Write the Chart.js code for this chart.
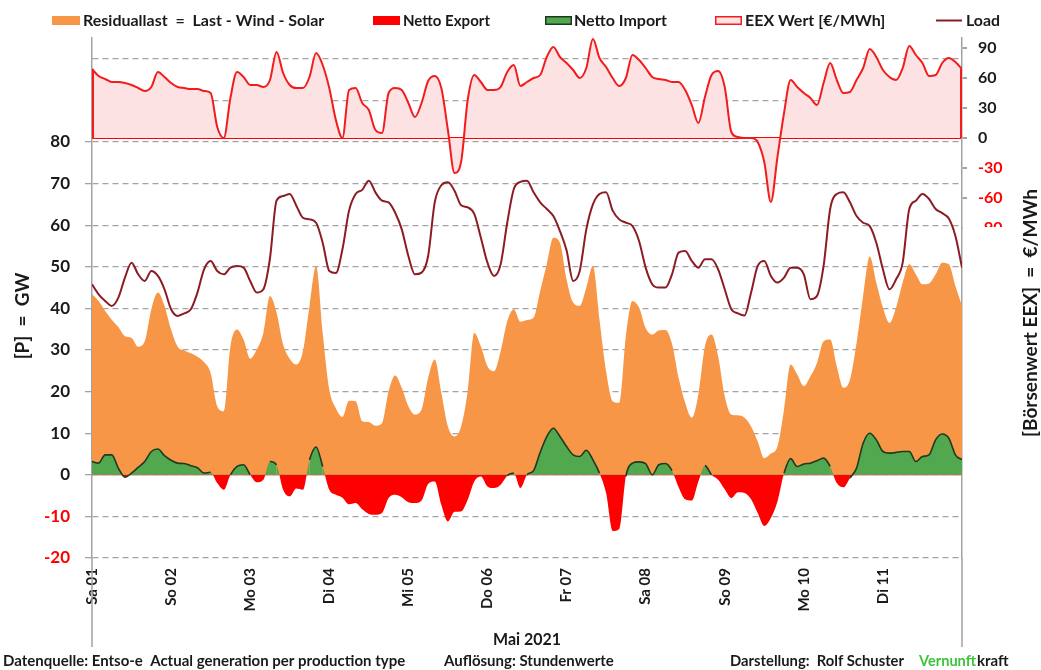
<!DOCTYPE html>
<html>
<head>
<meta charset="utf-8">
<title>Residuallast Mai 2021</title>
<script src="https://cdn.jsdelivr.net/npm/chart.js@4.4.1/dist/chart.umd.min.js"></script>
<style>
  body { margin: 0; background: #fff; }
  canvas { display: block; }
</style>
</head>
<body>
<canvas id="chart" width="1041" height="670"></canvas>
<script>
// hours since 01.05.2021 00:00, one reading every 2 hours (0 .. 264)
const hours = [];
for (let h = 0; h <= 264; h += 2) hours.push(h);

const dayTicks = [0, 24, 48, 72, 96, 120, 144, 168, 192, 216, 240];
const dayLabels = ["Sa 01", "So 02", "Mo 03", "Di 04", "Mi 05", "Do 06", "Fr 07", "Sa 08", "So 09", "Mo 10", "Di 11"];
const gwTicks = [-20, -10, 0, 10, 20, 30, 40, 50, 60, 70, 80, 90, 100];
const eurTicks = [-90, -60, -30, 0, 30, 60, 90];

// Residuallast [GW]
const residual = [
  43.4, 41.8, 39.4, 37.3, 35.5, 33.3, 32.9, 30.8, 32.1, 39.8, 43.8, 40.6,
  34.9, 30.8, 29.9, 29.2, 28.4, 27.1, 24.5, 16.5, 15.3, 30.9, 34.9, 32.5,
  27.9, 30.1, 34.1, 43.0, 39.0, 31.3, 27.9, 26.5, 29.7, 40.6, 50.2, 34.1,
  20.5, 16.0, 13.9, 17.8, 17.7, 12.9, 12.7, 11.8, 12.4, 20.1, 23.9, 20.9,
  16.5, 14.5, 15.7, 23.3, 27.7, 19.7, 11.6, 9.2, 11.6, 20.1, 34.1, 30.9,
  26.1, 24.9, 29.7, 36.9, 39.8, 36.8, 37.2, 37.8, 44.2, 50.6, 57.0, 55.8,
  47.0, 41.4, 40.6, 45.0, 50.2, 37.3, 24.9, 17.7, 17.3, 33.3, 41.8, 40.2,
  35.3, 33.7, 34.7, 34.8, 31.5, 23.3, 17.3, 13.7, 19.3, 30.9, 33.7, 28.5,
  18.9, 14.5, 14.3, 13.7, 11.6, 8.0, 4.0, 5.1, 6.8, 15.7, 26.5, 24.1,
  21.3, 23.7, 26.9, 32.1, 32.5, 26.1, 20.9, 22.9, 31.7, 43.0, 52.5, 46.2,
  40.2, 36.5, 40.2, 46.2, 50.6, 48.2, 45.8, 46.0, 48.2, 51.0, 50.6, 45.4,
  40.6
];

// Netto Import (+) / Netto Export (-) [GW]
const netto = [
  3.2, 2.8, 4.8, 4.8, 1.6, -0.6, 0.4, 1.8, 3.2, 5.6, 6.2, 4.6,
  3.5, 2.8, 2.7, 2.2, 1.7, 0.4, 0.6, -2.0, -3.6, 0.0, 2.0, 2.4,
  0.0, -1.8, -1.2, 3.2, 2.4, -3.6, -5.2, -3.3, -3.6, 3.6, 6.7, 2.0,
  -3.6, -4.8, -5.5, -7.1, -6.8, -8.3, -9.4, -9.6, -9.2, -5.6, -4.8, -5.4,
  -6.6, -6.8, -6.2, -2.2, -1.6, -7.2, -11.2, -8.9, -8.8, -6.0, -1.6, -0.4,
  -2.8, -3.2, -2.4, -0.2, 0.4, -3.2, 0.0, 1.0, 5.4, 9.2, 11.2, 9.2,
  6.8, 4.8, 4.4, 5.9, 3.6, 0.4, -4.4, -13.5, -13.0, -0.4, 2.8, 3.1,
  2.7, 0.0, 2.4, 2.7, 1.0, -3.0, -5.9, -6.2, -1.6, 2.2, 0.0, -1.2,
  -3.5, -5.6, -4.2, -4.4, -5.9, -9.2, -12.3, -10.4, -6.4, 0.4, 3.9, 2.0,
  2.6, 2.8, 3.4, 4.0, 2.0, -2.0, -3.0, -0.8, 1.6, 7.6, 10.0, 8.4,
  5.6, 5.2, 5.4, 5.6, 5.6, 3.2, 4.4, 4.8, 8.4, 9.8, 8.8, 4.8,
  3.6
];

// Load [GW]
const load = [
  45.8, 43.4, 41.8, 40.6, 42.6, 47.4, 51.0, 48.2, 46.6, 49.0, 47.8, 44.6,
  39.8, 38.2, 38.8, 39.8, 43.8, 49.4, 51.4, 49.0, 48.2, 49.8, 50.2, 49.8,
  46.6, 43.8, 44.6, 52.0, 65.9, 67.0, 67.5, 64.7, 61.8, 61.4, 60.6, 55.8,
  49.0, 48.5, 54.2, 63.5, 67.5, 68.5, 70.7, 67.9, 65.9, 65.5, 63.0, 59.0,
  52.6, 48.2, 48.6, 52.6, 65.5, 69.6, 70.3, 68.3, 64.8, 64.3, 62.7, 57.0,
  51.0, 47.8, 50.6, 60.6, 68.7, 70.4, 70.7, 67.9, 65.5, 63.9, 62.2, 58.6,
  54.0, 46.6, 49.0, 59.0, 65.0, 67.5, 67.9, 63.5, 61.4, 60.6, 59.8, 56.2,
  49.8, 45.8, 45.0, 45.0, 48.2, 53.4, 53.8, 51.4, 49.8, 51.8, 51.8, 49.4,
  44.6, 39.8, 38.8, 38.3, 43.8, 50.2, 51.4, 47.8, 46.2, 47.4, 49.8, 49.8,
  48.2, 42.2, 43.0, 50.2, 63.9, 67.5, 67.9, 65.5, 62.2, 60.6, 59.8, 55.8,
  49.4, 44.6, 47.0, 51.0, 63.9, 65.9, 67.5, 66.3, 63.9, 62.9, 61.6, 57.4,
  49.8
];

// EEX Wert [EUR/MWh]
const eex = [
  69, 62, 59, 56, 56, 55, 53, 50, 47, 51, 66, 61,
  55, 51, 50, 49, 49, 47, 45, 11, 0, 40, 66, 61,
  53, 53, 51, 58, 86, 65, 53, 50, 50, 61, 85, 73,
  50, 18, 0, 48, 50, 35, 28, 8, 5, 45, 50, 48,
  35, 21, 35, 57, 62, 50, 8, -35, -24, 38, 63, 56,
  48, 48, 51, 66, 73, 52, 56, 60, 63, 81, 91, 81,
  75, 68, 60, 70, 99, 80, 71, 60, 52, 60, 83, 78,
  70, 61, 59, 58, 56, 56, 48, 33, 15, 41, 63, 67,
  51, 6, 1, 0, 0, -4, -24, -64, -19, 25, 58, 51,
  45, 40, 33, 55, 75, 58, 45, 46, 58, 70, 89, 81,
  68, 61, 58, 70, 92, 83, 75, 62, 63, 75, 80, 76,
  69
];

const ORANGE = "#F79646";
const RED = "#FF0000";
const GREEN = "#52A84E";
const GREEN_EDGE = "#1E3A1E";
const PINK = "#FCE2E2";
const EEX_LINE = "#F21C1C";
const LOAD_COL = "#8B1C24";
const GRID = "#A3A3A3";
const TEXT = "#1A1A1A";
const FONT = "Lato, 'Open Sans', sans-serif";

const pts = arr => arr.map((v, i) => ({ x: hours[i], y: v }));

// axis lines, legend and captions drawn around the plot
const decorations = {
  id: "decorations",
  beforeDatasetsDraw(chart) {
    const { ctx, chartArea: a, scales } = chart;
    const y0 = scales.y.getPixelForValue(0);
    ctx.save();
    ctx.strokeStyle = GRID;
    ctx.lineWidth = 1.5;
    ctx.beginPath();
    ctx.moveTo(a.left, y0);
    ctx.lineTo(a.right, y0);
    ctx.stroke();
    ctx.restore();
  },
  afterDatasetsDraw(chart) {
    // closing edges of the price area at both ends
    const { ctx, chartArea: a, scales } = chart;
    const p0 = scales.y2.getPixelForValue(0);
    ctx.save();
    ctx.strokeStyle = EEX_LINE;
    ctx.lineWidth = 2;
    ctx.beginPath();
    ctx.moveTo(a.left + 1, p0);
    ctx.lineTo(a.left + 1, scales.y2.getPixelForValue(eex[0]));
    ctx.moveTo(a.right - 1, p0);
    ctx.lineTo(a.right - 1, scales.y2.getPixelForValue(eex[eex.length - 1]));
    ctx.stroke();
    ctx.restore();
  },
  afterDraw(chart) {
    const { ctx, chartArea: a } = chart;
    ctx.save();

    // the lower part of the price axis is blanked out
    ctx.fillStyle = "#fff";
    ctx.fillRect(a.right + 1, 227, 50, a.bottom - 227 + 3);

    // category separators below the plot
    ctx.strokeStyle = GRID;
    ctx.lineWidth = 1.5;
    ctx.beginPath();
    ctx.moveTo(a.left, a.bottom);
    ctx.lineTo(a.left, 647);
    ctx.moveTo(a.right, a.bottom);
    ctx.lineTo(a.right, 647);
    ctx.stroke();

    ctx.fillStyle = TEXT;
    ctx.textBaseline = "alphabetic";

    // axis titles
    ctx.font = "bold 19px " + FONT;
    ctx.textAlign = "center";
    ctx.save();
    ctx.translate(29, 316);
    ctx.rotate(-Math.PI / 2);
    ctx.fillText("[P]  =  GW", 0, 0, 96);
    ctx.restore();
    ctx.save();
    ctx.translate(1037, 313);
    ctx.rotate(-Math.PI / 2);
    ctx.fillText("[Börsenwert EEX]  =  €/MWh", 0, 0, 282);
    ctx.restore();

    ctx.font = "bold 17px " + FONT;
    ctx.fillText("Mai 2021", 527, 645, 68);

    // footer
    ctx.font = "bold 15px " + FONT;
    ctx.textAlign = "left";
    ctx.fillText("Datenquelle: Entso-e  Actual generation per production type", 3, 666, 409);
    ctx.fillText("Auflösung: Stundenwerte", 444, 666, 176);
    ctx.fillText("Darstellung:  Rolf Schuster", 730, 666, 174);
    ctx.fillStyle = "#3CC43C";
    ctx.fillText("Vernunft", 919, 666, 57);
    ctx.fillStyle = TEXT;
    ctx.fillText("kraft", 977, 666, 38);

    // legend
    ctx.font = "bold 16px " + FONT;
    const legend = [
      { kind: "box", x: 52, w: 28, fill: ORANGE, text: "Residuallast  =  Last - Wind - Solar", tx: 83, tw: 247 },
      { kind: "box", x: 373, w: 27, fill: RED, text: "Netto Export", tx: 403, tw: 87 },
      { kind: "box", x: 545, w: 27, fill: GREEN, stroke: GREEN_EDGE, text: "Netto Import", tx: 574, tw: 96 },
      { kind: "box", x: 715, w: 27, fill: PINK, stroke: EEX_LINE, text: "EEX Wert [€/MWh]", tx: 745, tw: 141 },
      { kind: "line", x: 936, w: 26, stroke: LOAD_COL, text: "Load", tx: 966, tw: 34 }
    ];
    legend.forEach(item => {
      if (item.kind === "box") {
        ctx.fillStyle = item.fill;
        ctx.fillRect(item.x, 16, item.w, 9);
        if (item.stroke) {
          ctx.strokeStyle = item.stroke;
          ctx.lineWidth = 1.5;
          ctx.strokeRect(item.x + 0.75, 16.75, item.w - 1.5, 7.5);
        }
      } else {
        ctx.strokeStyle = item.stroke;
        ctx.lineWidth = 2;
        ctx.beginPath();
        ctx.moveTo(item.x, 20.5);
        ctx.lineTo(item.x + item.w, 20.5);
        ctx.stroke();
      }
      ctx.fillStyle = TEXT;
      ctx.fillText(item.text, item.tx, 26, item.tw);
    });

    ctx.restore();
  }
};

new Chart(document.getElementById("chart"), {
  type: "line",
  data: {
    datasets: [
      {
        label: "Load",
        data: pts(load),
        yAxisID: "y",
        borderColor: LOAD_COL,
        borderWidth: 2,
        fill: false,
        order: 1
      },
      {
        label: "Netto Import / Export",
        data: pts(netto),
        yAxisID: "y",
        borderWidth: 1.6,
        borderColor: GREEN_EDGE,
        // outline only on the import side
        segment: {
          borderColor: c => (Math.min(c.p0.parsed.y, c.p1.parsed.y) < -1 ? "rgba(0,0,0,0)" : GREEN_EDGE)
        },
        fill: { target: "origin", above: GREEN, below: RED },
        order: 2
      },
      {
        label: "EEX Wert [€/MWh]",
        data: pts(eex),
        yAxisID: "y2",
        borderColor: EEX_LINE,
        borderWidth: 2,
        fill: { target: "origin", above: PINK, below: PINK },
        order: 3
      },
      {
        label: "Residuallast",
        data: pts(residual),
        yAxisID: "y",
        borderWidth: 0,
        borderColor: ORANGE,
        backgroundColor: ORANGE,
        fill: "origin",
        order: 4
      }
    ]
  },
  options: {
    responsive: false,
    animation: false,
    devicePixelRatio: 1,
    layout: { padding: { top: 38, left: 0, right: 0, bottom: 0 } },
    elements: {
      point: { radius: 0, hoverRadius: 0 },
      line: { cubicInterpolationMode: "monotone" }
    },
    plugins: {
      legend: { display: false },
      tooltip: { enabled: false }
    },
    scales: {
      x: {
        type: "linear",
        min: 0,
        max: 264,
        afterBuildTicks: s => { s.ticks = dayTicks.map(v => ({ value: v })); },
        afterFit: s => { s.height = 112; },
        ticks: {
          autoSkip: false,
          minRotation: 90,
          maxRotation: 90,
          padding: 10,
          color: TEXT,
          font: { family: FONT, weight: "bold", size: 15 },
          callback: (v, i) => dayLabels[i]
        },
        grid: { display: false, drawTicks: false },
        border: { display: false }
      },
      y: {
        position: "left",
        min: -20,
        max: 105,
        afterBuildTicks: s => { s.ticks = gwTicks.map(v => ({ value: v })); },
        afterFit: s => { s.width = 92; },
        ticks: {
          padding: 15,
          color: c => (c.tick.value < 0 ? RED : TEXT),
          font: { family: FONT, weight: "bold", size: 17 },
          callback: v => (v <= 80 ? v : "")
        },
        grid: {
          color: GRID,
          lineWidth: 1.3,
          tickLength: 7,
          tickColor: c => (c.tick.value > 80 ? "rgba(0,0,0,0)" : GRID)
        },
        border: { color: GRID, width: 1.5, dash: [6, 4] }
      },
      y2: {
        position: "right",
        min: -420,
        max: 100,
        z: 1,
        afterBuildTicks: s => { s.ticks = eurTicks.map(v => ({ value: v })); },
        afterFit: s => { s.width = 79; },
        ticks: {
          padding: 11,
          color: c => (c.tick.value < 0 ? RED : TEXT),
          font: { family: FONT, weight: "bold", size: 16 }
        },
        grid: {
          color: c => (c.tick.value === 0 ? RED : "rgba(0,0,0,0)"),
          lineWidth: 2,
          tickLength: 5,
          tickColor: GRID
        },
        border: { color: GRID, width: 1.5 }
      }
    }
  },
  plugins: [decorations]
});
</script>
</body>
</html>
